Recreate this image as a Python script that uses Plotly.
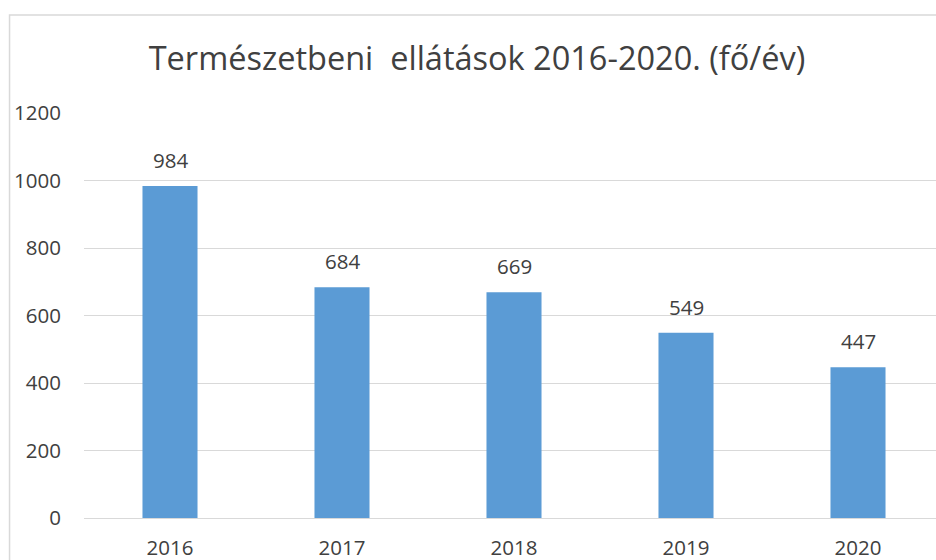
import plotly.graph_objects as go

years = ["2016", "2017", "2018", "2019", "2020"]
values = [984, 684, 669, 549, 447]
y_ticks = [0, 200, 400, 600, 800, 1000, 1200]
title_text = "Természetbeni  ellátások 2016-2020. (fő/év)"

W, H = 936, 560
ml, mr, mt, mb = 83.5, 0, 113, 42
pw = W - ml - mr
ph = H - mt - mb

FONT = "Open Sans"
FS = 20.5
fig = go.Figure()
fig.add_trace(go.Bar(
    x=list(range(len(years))), y=values,
    marker=dict(color="#5B9BD5", line=dict(width=0)),
    width=0.32,
))
for i, v in enumerate(values):
    fig.add_annotation(x=i, y=v, text=str(v), showarrow=False,
                       yanchor="bottom", yshift=10,
                       font=dict(family=FONT, size=FS, color="#404040"))

# border of chart area
fig.add_shape(type="rect", xref="paper", yref="paper",
              x0=(9 - ml) / pw, x1=1.2,
              y0=-0.3, y1=(H - 15 - mb) / ph,
              line=dict(color="#d9d9d9", width=1.5), layer="below")

fig.update_layout(
    width=W, height=H,
    margin=dict(l=ml, r=mr, t=mt, b=mb, autoexpand=False),
    paper_bgcolor="white", plot_bgcolor="white",
    showlegend=False,
    title=dict(text=title_text, x=(477) / W, xanchor="center",
               y=1 - 59 / H, yanchor="middle",
               font=dict(family=FONT, size=32.5, color="#404040")),
    xaxis=dict(tickmode="array", tickvals=list(range(len(years))), ticktext=years,
               range=[-0.5, -0.5 + pw / 172.1], showgrid=False, zeroline=False,
               showline=False, ticks="outside", ticklen=11, tickcolor="rgba(0,0,0,0)",
               automargin=False,
               tickfont=dict(family=FONT, size=FS, color="#404040")),
    yaxis=dict(range=[0, 1200], tickvals=y_ticks, showgrid=True, gridcolor="#d9d9d9",
               gridwidth=1.3, zeroline=True, zerolinecolor="#d9d9d9", zerolinewidth=1.3,
               showline=False, ticks="outside", ticklen=18, tickcolor="rgba(0,0,0,0)",
               automargin=False,
               tickfont=dict(family=FONT, size=FS, color="#404040")),
)
fig.write_html("out.html")
